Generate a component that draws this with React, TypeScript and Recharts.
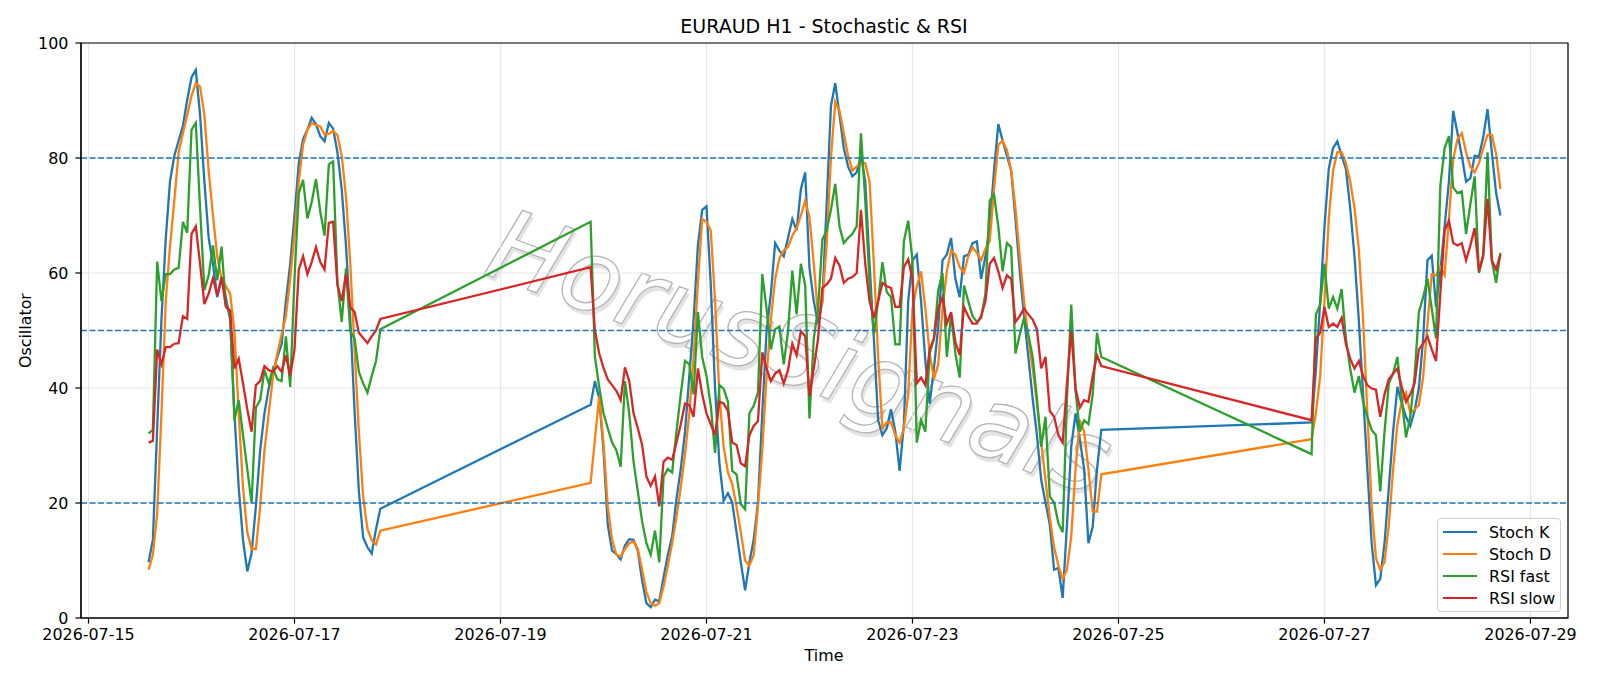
import {
  LineChart,
  Line,
  XAxis,
  YAxis,
  CartesianGrid,
  ReferenceLine,
  ReferenceArea,
} from "recharts";

// Trading sessions as hour offsets from 2026-07-15 00:00 (H1 bars, weekends closed)
const SESSIONS: [number, number][] = [
  [14, 68],
  [117, 236],
  [285, 329],
];

const DATE_TICKS = [
  "2026-07-15",
  "2026-07-17",
  "2026-07-19",
  "2026-07-21",
  "2026-07-23",
  "2026-07-25",
  "2026-07-27",
  "2026-07-29",
];

const Y_TICKS = [0, 20, 40, 60, 80, 100];
const LEVELS = [20, 50, 80];

const stochK = [
  9.7, 13.6, 33, 52, 66, 76, 80.4, 83, 85.6, 90.1,
  94, 95.3, 87.5, 75.9, 66.1, 61.6, 55.8, 59, 55.8, 51.9,
  35.6, 22.7, 13.6, 8.1, 11.3, 19.4, 29.2, 35.6, 40, 42.8,
  45.4, 47.6, 55.1, 61.6, 70, 79.1, 83.3, 84.9, 87, 85.9,
  83.8, 82.9, 86.1, 85.1, 81, 74.6, 64.8, 51.9, 36, 22,
  14, 12.3, 11.2, 15.5, 19,
  // week 2
  37.1, 41.2, 38.2, 29.2, 16.2, 11.7, 11.1, 10.2, 12.6, 13.7,
  13.6, 11.7, 6.5, 2.6, 1.9, 3.2, 2.9, 7.1, 11, 14.2,
  20.7, 25.9, 32.4, 42.1, 51.9, 64.8, 71, 71.6, 58, 40,
  27, 20.4, 21.7, 20.1, 14.9, 9.7, 4.8, 9.7, 13.6, 20.1,
  35.6, 49.9, 56.4, 65.2, 63.9, 62.9, 66.1, 69.4, 67.4, 74.6,
  77.5, 60.9, 55.1, 51.2, 55, 72, 89, 93, 87.5, 81.7,
  78.5, 76.8, 77.5, 80.4, 75.9, 61.6, 48.6, 34.4, 31.8, 33,
  36.3, 32.4, 25.6, 33.7, 55.1, 62.2, 63.2, 55.1, 44.7, 37.3,
  43.4, 50.6, 62.2, 63.2, 66.1, 59, 55.8, 62.9, 63.2, 65.2,
  65.5, 59, 62.9, 68.1, 77.8, 85.9, 83, 80.4, 77.8, 69.4,
  60.3, 52.5, 45.4, 38.2, 31.8, 24, 20.1, 16.2, 8.4, 8.7,
  3.5, 16.2, 29.8, 35.6, 31.1, 25.9, 13, 15.9, 25.9, 32.7,
  // week 3
  34, 43, 55, 68, 78.1, 81.7, 82.9, 80.4, 78.1, 71.3,
  62.9, 51.9, 38.9, 25.9, 13, 5.7, 6.8, 13, 22.7, 32.4,
  40.2, 37.3, 35, 33.4, 36, 40, 48.6, 62.2, 63, 54.1,
  60.3, 68.1, 75.9, 88.2, 84.3, 80.4, 75.9, 76.5, 80.4, 80.3,
  83.6, 88.5, 81, 73.9, 70,
];

const stochD = [
  8.4, 11, 18.1, 35.6, 55.1, 64.8, 72.6, 81, 84.3, 87.5,
  90.8, 93, 92.4, 87.5, 77.8, 70, 62.9, 59, 57.7, 56.4,
  49.9, 35.6, 22.7, 14.9, 12, 12, 19.4, 29.2, 35.6, 42.1,
  46, 49.3, 52.5, 59, 66.8, 75.9, 82.3, 84.9, 86.1, 85.7,
  85.5, 84.1, 84.2, 84.7, 84, 80.4, 73.3, 61.6, 46.7, 32.4,
  21, 15.5, 13.5, 12.8, 15.2,
  // week 2
  23.5, 31, 38.6, 30.5, 19.4, 13.6, 11, 10.7, 12, 13,
  13.3, 12, 8.4, 4.5, 2.6, 2.1, 2.6, 5.5, 9.1, 13,
  17.5, 22.7, 28.5, 35.6, 45.4, 58.3, 69.4, 68.9, 67.4, 55.1,
  38.9, 29.8, 25.3, 23.3, 19.4, 14.9, 10, 9.1, 11, 19.4,
  29.2, 42.1, 51.9, 59, 62.6, 63.9, 64.5, 66.5, 67.8, 70,
  72.6, 69.7, 61.6, 52.5, 55, 65, 80, 89.8, 88.2, 84.3,
  80.4, 77.8, 78.5, 79.1, 79.1, 75.9, 61.6, 45.4, 33, 34,
  34, 31.8, 30.5, 33, 38.9, 53.8, 57.7, 60.3, 53.8, 46,
  41.6, 44.1, 53.8, 60.3, 63.9, 63.2, 61, 60, 62.9, 64.5,
  63.5, 62.2, 64.2, 65.5, 74.6, 82.3, 83, 81.4, 77.8, 71.3,
  62.9, 55.1, 48.6, 43.4, 37.3, 30.5, 24, 17.5, 12.3, 9.1,
  6.8, 8.4, 14.3, 25.9, 34.4, 32.4, 25.9, 18.5, 18.5, 25,
  // week 3
  31.1, 35.6, 42.1, 55.1, 69.4, 77.8, 81, 81, 79.1, 75.9,
  71.3, 64.2, 51.9, 35.6, 19.4, 10.4, 8.4, 9.7, 16.2, 25.9,
  33.7, 37.6, 39.2, 35.6, 36.3, 37, 42, 51, 59.8, 59.6,
  61, 59.6, 69.4, 79.8, 83.3, 84.3, 81, 78.5, 77.5, 79.1,
  81.7, 84, 84, 80.7, 74.6,
];

const rsiFast = [
  32.1, 32.7, 62, 55.1, 59.8, 59.8, 60.6, 60.9, 68.9, 67,
  84.9, 86.1, 71.3, 57, 59.6, 64.8, 58.7, 64.6, 54.5, 52.8,
  34.4, 37.9, 31.8, 25.9, 20, 36.6, 37.9, 43.1, 40.8, 43.4,
  41.5, 41.2, 49, 40.2, 59, 73.9, 76.2, 69.5, 72.3, 76.3,
  70.7, 66.5, 78.9, 79.4, 58.3, 51.5, 60.8, 49.9, 48.6, 42.8,
  40.8, 39.2, 42.1, 44.7, 50.2,
  // week 2
  68.9, 45.4, 40.2, 35.6, 33, 30.5, 29.2, 26.3, 41.2, 35.6,
  27.2, 22, 16.8, 13, 11, 15.2, 9.7, 24.6, 25.9, 25.3,
  32.4, 38.9, 44.7, 44.1, 38.9, 53.2, 45.4, 42.1, 36.9, 28.7,
  40.5, 39.9, 37.6, 25.6, 25, 19.8, 18.9, 35.6, 36.9, 39.2,
  59.8, 53.8, 46.7, 50.2, 50.7, 44.1, 49.9, 60.4, 52.8, 61.6,
  57.8, 34.7, 48.6, 53.8, 65.8, 67.4, 71, 75.5, 68.1, 65.2,
  66.1, 66.8, 68.1, 84.3, 72.6, 58.3, 49.3, 55.1, 61.9, 56.7,
  55.8, 47.6, 47.6, 65.5, 69.1, 62.2, 30.5, 34.4, 32.4, 46,
  48.6, 57, 60, 45.4, 52.8, 46, 41.8, 57.8, 55.1, 52.5,
  51.5, 52.2, 56.4, 72.6, 73.6, 68.1, 60.3, 65.2, 64.5, 46,
  49.3, 52.2, 49.3, 45.4, 38.2, 29.8, 35, 21.1, 20.1, 16.5,
  14.9, 38.2, 54.5, 39.5, 32.4, 34.4, 33.7, 38.9, 49.6, 45.4,
  // week 3
  28.5, 52.8, 54.5, 61.6, 53.8, 55.8, 53.8, 57.2, 48.6, 43.4,
  39.2, 42.1, 37.6, 35, 32.7, 31.8, 22, 32.4, 40.8, 42.5,
  45.4, 38.2, 31.4, 35, 42.1, 53.2, 55.8, 59, 53.8, 48.6,
  75.2, 81.7, 83.8, 74.9, 73.9, 74.2, 66.8, 72, 76.8, 60,
  62.9, 81, 62.2, 58.3, 63.5,
];

const rsiSlow = [
  30.5, 30.8, 46.7, 44.1, 47.1, 47.1, 47.7, 47.8, 52.5, 52,
  66.8, 68.1, 61.6, 54.6, 56.4, 59.1, 56.1, 59.3, 54.1, 53.5,
  43.4, 45.1, 40.8, 36.3, 32.4, 40.5, 41.2, 43.8, 43.1, 42.8,
  43.8, 42.8, 45.7, 42.1, 46.7, 60.6, 62.9, 59.8, 61.9, 64.5,
  61.9, 60.6, 68.7, 68.9, 58, 55.1, 59.8, 54.1, 53.2, 49.6,
  48.7, 47.8, 49, 50, 52,
  // week 2
  61, 50, 46, 43.5, 41.5, 40.5, 39.5, 37.9, 43.6, 41.2,
  35.6, 33, 30.1, 24.6, 23, 24.6, 19.4, 27.2, 27.9, 27.5,
  30.5, 33.7, 37.3, 37, 35, 43.4, 38.9, 35.6, 33.7, 31.8,
  37.6, 37.3, 36, 30.5, 30.1, 26.9, 26.4, 31.8, 33.4, 34.2,
  46.2, 43.4, 41.2, 42.5, 43.1, 40.8, 43.1, 47.7, 45.7, 49.9,
  49, 38.6, 43.4, 48.6, 57.4, 58, 59, 62.6, 61.3, 58.3,
  59, 59.3, 60, 71, 61.6, 55.1, 52.2, 55.1, 58.3, 57.7,
  57.4, 54.1, 54.1, 61, 62.4, 59, 40.8, 41.8, 40.5, 46.7,
  48.6, 53.8, 55.8, 51.2, 53.2, 48, 45.7, 54.1, 52.5, 51.2,
  51.2, 52.5, 55.1, 61.6, 62.6, 60.3, 57.4, 59.6, 59, 51.5,
  52.5, 53.8, 52.8, 51.9, 50.2, 43.4, 45.4, 36, 35, 31.8,
  30.5, 40.8, 49.9, 39.9, 36.6, 37.9, 37.6, 42.1, 45.7, 43.8,
  // week 3
  34.4, 48.6, 49.6, 54.1, 50.6, 51.2, 50.6, 52.2, 47.6, 45.1,
  43.4, 44.7, 42.1, 40.5, 39.9, 39.7, 35, 38.9, 41.5, 42.5,
  43.4, 40.2, 37.6, 38.9, 40.8, 46.7, 47.7, 49, 46.7, 44.7,
  56.4, 67.4, 69.1, 65.2, 64.8, 65.2, 62.2, 64.8, 67.8, 60.3,
  63.2, 72.9, 62.2, 60.6, 63.2,
];

const SERIES = [
  { key: "k", name: "Stoch K", color: "#1f77b4" },
  { key: "d", name: "Stoch D", color: "#ff7f0e" },
  { key: "fast", name: "RSI fast", color: "#2ca02c" },
  { key: "slow", name: "RSI slow", color: "#d62728" },
];

const WATERMARK = "HorusSignals";

const hours = SESSIONS.flatMap(([from, to]) =>
  Array.from({ length: to - from + 1 }, (_, i) => from + i)
);

const data = hours.map((t, i) => ({
  t,
  k: stochK[i],
  d: stochD[i],
  fast: rsiFast[i],
  slow: rsiSlow[i],
}));

// matplotlib-style 5% padding around the data span
const span = hours[hours.length - 1] - hours[0];
const X_DOMAIN: [number, number] = [
  hours[0] - span * 0.05,
  hours[hours.length - 1] + span * 0.05,
];
const xTicks = DATE_TICKS.map((_, i) => i * 48);

const FONT = "'DejaVu Sans', sans-serif";
const tickStyle = { fill: "#000", fontSize: 15.9, fontFamily: FONT };

function Legend() {
  return (
    <div
      style={{
        position: "absolute",
        left: 1437,
        top: 518,
        width: 122,
        height: 92,
        border: "1px solid #d0d0d0",
        borderRadius: 4,
        background: "rgba(255,255,255,0.8)",
        fontFamily: FONT,
        fontSize: 15.9,
        color: "#000",
      }}
    >
      {SERIES.map((s, i) => (
        <div
          key={s.key}
          style={{
            position: "absolute",
            left: 5,
            top: 2 + i * 22,
            height: 22,
            display: "flex",
            alignItems: "center",
            whiteSpace: "nowrap",
          }}
        >
          <span
            style={{
              display: "inline-block",
              width: 34,
              height: 2.4,
              background: s.color,
              marginRight: 12,
            }}
          />
          {s.name}
        </div>
      ))}
    </div>
  );
}

export default function App() {
  return (
    <div style={{ position: "relative", width: 1600, height: 686, background: "#fff" }}>
      <style>{"body{margin:0}"}</style>
      <svg
        width={1600}
        height={686}
        style={{ position: "absolute", left: 0, top: 0 }}
        fontFamily={FONT}
      >
        {/* watermark: outlined glyphs over a soft offset shadow */}
        <g transform="translate(800 352) rotate(20)">
          <text
            x={3.5}
            y={3.5}
            textAnchor="middle"
            dominantBaseline="central"
            fontSize={100}
            fontStyle="italic"
            fill="#e3e3e3"
          >
            {WATERMARK}
          </text>
          <text
            textAnchor="middle"
            dominantBaseline="central"
            fontSize={100}
            fontStyle="italic"
            fill="#fff"
            stroke="#b4b4b4"
            strokeWidth={1.3}
          >
            {WATERMARK}
          </text>
        </g>
        <text x={824} y={33} textAnchor="middle" fontSize={19}>
          EURAUD H1 - Stochastic &amp; RSI
        </text>
        <text x={824} y={661} textAnchor="middle" fontSize={15.9}>
          Time
        </text>
        <text
          transform="translate(31 330.6) rotate(-90)"
          textAnchor="middle"
          fontSize={15.9}
        >
          Oscillator
        </text>
      </svg>
      <div style={{ position: "absolute", left: 0, top: 0 }}>
        <LineChart
          width={1600}
          height={686}
          data={data}
          margin={{ top: 43, right: 32, bottom: 28, left: 21 }}
          style={{ fontFamily: FONT }}
        >
          <CartesianGrid stroke="#e6e6e6" strokeWidth={1.2} />
          <XAxis
            dataKey="t"
            type="number"
            domain={X_DOMAIN}
            ticks={xTicks}
            interval={0}
            allowDataOverflow
            tickFormatter={(v: number) => DATE_TICKS[Math.round(v / 48)]}
            height={40}
            tickSize={5.6}
            tickMargin={5}
            tick={tickStyle}
            axisLine={{ stroke: "#000", strokeWidth: 1.2 }}
            tickLine={{ stroke: "#000", strokeWidth: 1.2 }}
          />
          <YAxis
            domain={[0, 100]}
            ticks={Y_TICKS}
            interval={0}
            width={60}
            tickSize={5.6}
            tickMargin={7}
            tick={tickStyle}
            axisLine={{ stroke: "#000", strokeWidth: 1.2 }}
            tickLine={{ stroke: "#000", strokeWidth: 1.2 }}
          />
          <ReferenceArea
            x1={X_DOMAIN[0]}
            x2={X_DOMAIN[1]}
            y1={0}
            y2={100}
            fill="none"
            stroke="#000"
            strokeWidth={1.2}
          />
          {SERIES.map((s) => (
            <Line
              key={s.key}
              type="linear"
              dataKey={s.key}
              name={s.name}
              stroke={s.color}
              strokeWidth={2.3}
              dot={false}
              isAnimationActive={false}
            />
          ))}
          {LEVELS.map((v) => (
            <ReferenceLine
              key={v}
              y={v}
              stroke="#1f77b4"
              strokeWidth={1.5}
              strokeDasharray="6 2.5"
            />
          ))}
        </LineChart>
      </div>
      <Legend />
    </div>
  );
}
